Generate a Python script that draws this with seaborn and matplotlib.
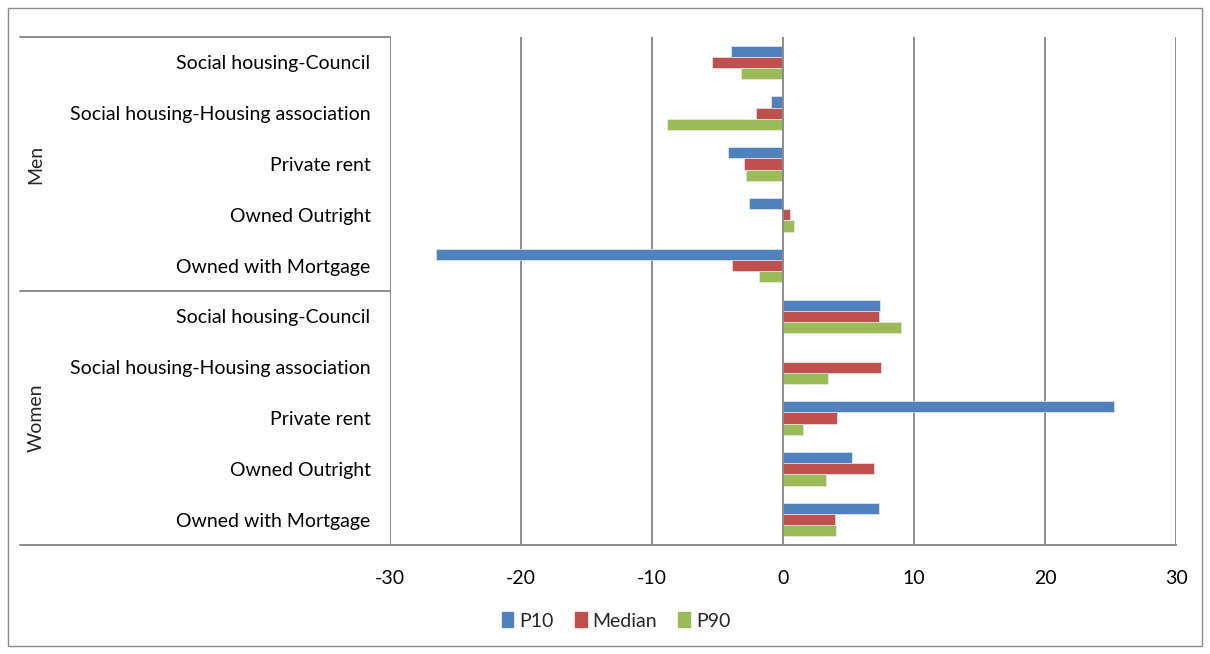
import matplotlib
matplotlib.use("Agg")
import matplotlib.pyplot as plt
from matplotlib.lines import Line2D
from matplotlib.patches import Rectangle
import seaborn as sns
import pandas as pd

groups = ["Men", "Women"]
housing = ["Social housing-Council", "Social housing-Housing association",
           "Private rent", "Owned Outright", "Owned with Mortgage"]
series = ["P10", "Median", "P90"]
colors = ["#4F81BD", "#C0504D", "#9BBB59"]

men_p10 = [-4.0, -0.9, -4.2, -2.6, -26.5]
men_median = [-5.4, -2.05, -3.0, 0.5, -3.9]
men_p90 = [-3.2, -8.85, -2.8, 0.85, -1.8]
women_p10 = [7.4, 0.0, 25.3, 5.25, 7.35]
women_median = [7.35, 7.45, 4.15, 6.95, 4.0]
women_p90 = [9.0, 3.45, 1.5, 3.3, 4.05]
xticks = [-30, -20, -10, 0, 10, 20, 30]

data = {"Men": [men_p10, men_median, men_p90],
        "Women": [women_p10, women_median, women_p90]}
rows = []
for g in groups:
    for s_i, s in enumerate(series):
        for h_i, h in enumerate(housing):
            rows.append({"cat": f"{g}|{h}", "series": s, "value": data[g][s_i][h_i]})
df = pd.DataFrame(rows)
order = [f"{g}|{h}" for g in groups for h in housing]

sns.set_theme(style="white")
plt.rcParams["font.family"] = ["Lato", "DejaVu Sans"]
FS = 14

W, H = 1210, 654
fig = plt.figure(figsize=(W / 100, H / 100), dpi=100)
L, R, T, B = 390, 1176, 37, 545
ax = fig.add_axes([L / W, 1 - B / H, (R - L) / W, (B - T) / H])

sns.barplot(data=df, y="cat", x="value", hue="series", order=order,
            hue_order=series, palette=colors, saturation=1, orient="h", width=0.66,
            edgecolor="#E8E8E8", linewidth=0.5, ax=ax, legend=False, zorder=2)

ax.set_xlim(-30, 30)
ax.set_ylim(len(order) - 0.5, -0.5)
ax.set_xticks(xticks)
ax.set_xticklabels([str(v) for v in xticks], fontsize=FS, color="black")
ax.set_yticks(range(len(order)))
ax.set_yticklabels(housing * 2, fontsize=FS, color="black")
ax.tick_params(axis="x", length=0, pad=18)
ax.tick_params(axis="y", length=0, pad=14)
ax.set_xlabel("")
ax.set_ylabel("")
gc = "#8C8C8C"
for v in xticks:
    ax.axvline(v, color=gc, lw=1.4, zorder=3 if v == 0 else 0.5)
for sp in ["top", "right", "left"]:
    ax.spines[sp].set_visible(False)
ax.spines["bottom"].set_color(gc)
ax.spines["bottom"].set_linewidth(1.4)

# multi-level category separators
for y in [T, 291, B]:
    fig.add_artist(Line2D([20 / W, L / W], [1 - y / H, 1 - y / H], color=gc, lw=1.4))
fig.text(36 / W, 1 - 164 / H, "Men", rotation=90, ha="center", va="center", fontsize=FS)
fig.text(36 / W, 1 - 418 / H, "Women", rotation=90, ha="center", va="center", fontsize=FS)

# outer border
fig.add_artist(Rectangle((8 / W, 8 / H), (W - 16) / W, (H - 16) / H, fill=False,
                         edgecolor="#8C8C8C", lw=1.0, transform=fig.transFigure))

handles = [Rectangle((0, 0), 1, 1, color=c) for c in colors]
fig.legend(handles, series, loc="center", bbox_to_anchor=(616 / W, 1 - 621 / H),
           ncol=3, frameon=False, fontsize=FS, handlelength=0.6, handleheight=0.8,
           handletextpad=0.3, columnspacing=1.1)

fig.savefig("out.png", dpi=100)
